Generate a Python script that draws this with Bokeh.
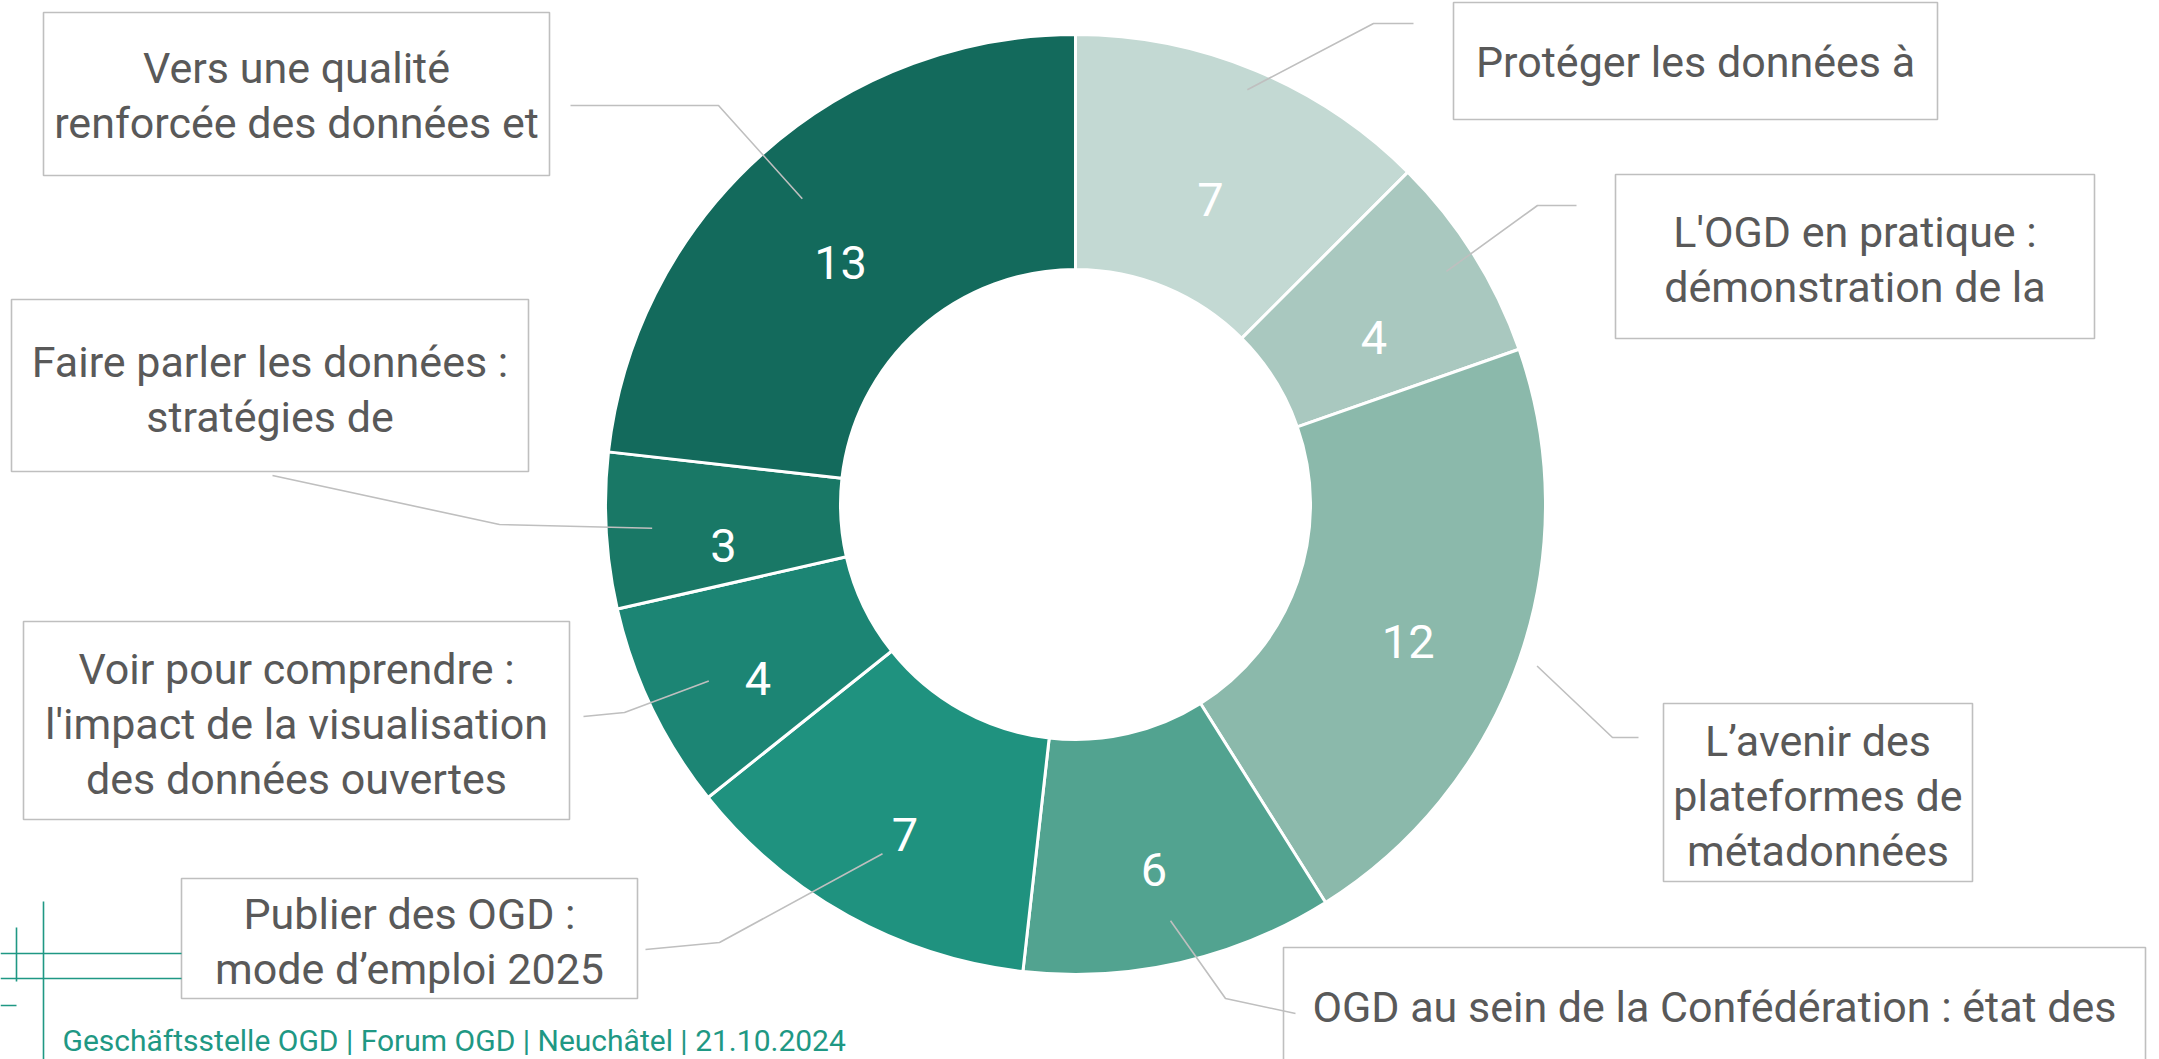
import math
from bokeh.plotting import figure
from bokeh.models import Range1d
from bokeh.core.properties import value
from bokeh.embed import file_html
from bokeh.resources import INLINE

# ---------------- data ----------------
topics = [
    "Protéger les données à",
    "L'OGD en pratique :\ndémonstration de la",
    "L’avenir des\nplateformes de\nmétadonnées",
    "OGD au sein de la Confédération : état des",
    "Publier des OGD :\nmode d’emploi 2025",
    "Voir pour comprendre :\nl'impact de la visualisation\ndes données ouvertes",
    "Faire parler les données :\nstratégies de",
    "Vers une qualité\nrenforcée des données et",
]
counts = [7, 4, 12, 6, 7, 4, 3, 13]
slice_colors = ["#c3d9d3", "#a9c8bf", "#8bb9ab", "#52a390",
                "#1f927f", "#1c8574", "#197866", "#136a5c"]
footer_text = "Geschäftsstelle OGD  | Forum OGD | Neuchâtel | 21.10.2024"

# ---------------- layout (reference pixel space, y down) ----------------
W, H = 2159, 1059
CX, CY = 1075, 504
R_OUT, R_IN = 470, 235
# label boxes: left, top, right, bottom, text centre y
boxes = [
    (1453, 2, 1937, 119, 61),
    (1615, 174, 2094, 338, 259),
    (1663, 703, 1972, 881, 795),
    (1283, 947, 2145, 1120, 1006),
    (181, 878, 637, 998, 941),
    (23, 621, 569, 819, 723),
    (11, 299, 528, 471, 389),
    (43, 12, 549, 175, 95),
]
lead_r = [449, 438, 489, 427, 399, 407, 424, 410]
lead_elbow = [(1373, 23), (1537, 205), (1612, 737), (1225, 998),
              (719, 942), (624, 712), (499, 524), (718, 105)]
lead_end = [(1413, 23), (1576, 205), (1638, 737), (1295, 1013),
            (645, 949), (583, 716), (272, 475), (570, 105)]
LINE_SP = 55

TEXT_GREY = "#595959"
BOX_GREY = "#bfbfbf"
TEAL = "#1f9884"


def Y(ry):
    return -ry


p = figure(width=W, height=H, output_backend="svg", toolbar_location=None,
           x_range=Range1d(0, W), y_range=Range1d(-H, 0),
           x_axis_type=None, y_axis_type=None, min_border=0,
           background_fill_color="white", border_fill_color="white")
p.outline_line_color = None
p.grid.visible = False

total = sum(counts)
cum = [0]
for c in counts:
    cum.append(cum[-1] + c)
theta0 = [2 * math.pi * cum[i] / total for i in range(len(counts))]
theta1 = [2 * math.pi * cum[i + 1] / total for i in range(len(counts))]
thetam = [(a + b) / 2 for a, b in zip(theta0, theta1)]

p.annular_wedge(x=[CX] * len(counts), y=[Y(CY)] * len(counts),
                inner_radius=R_IN, outer_radius=R_OUT,
                start_angle=[math.pi / 2 - t for t in theta0],
                end_angle=[math.pi / 2 - t for t in theta1],
                direction="clock", fill_color=slice_colors,
                line_color="white", line_width=3)

# value labels
r_mid = (R_IN + R_OUT) / 2
lx = [CX + r_mid * math.sin(t) for t in thetam]
ly = [Y(CY - r_mid * math.cos(t)) - 21 for t in thetam]
p.text(x=lx, y=ly, text=[str(c) for c in counts], text_color="white",
       text_font=value("Roboto"), text_font_size="47px",
       text_align="center", text_baseline="middle")

# leader lines
xs, ys = [], []
for i, t in enumerate(thetam):
    sx = CX + lead_r[i] * math.sin(t)
    sy = CY - lead_r[i] * math.cos(t)
    xs.append([sx, lead_elbow[i][0], lead_end[i][0]])
    ys.append([Y(sy), Y(lead_elbow[i][1]), Y(lead_end[i][1])])
p.multi_line(xs=xs, ys=ys, line_color=BOX_GREY, line_width=1.6)

# boxes
p.quad(left=[b[0] for b in boxes], right=[b[2] for b in boxes],
       top=[Y(b[1]) for b in boxes], bottom=[Y(b[3]) for b in boxes],
       fill_alpha=0, line_color=BOX_GREY, line_width=1.6)

tx, ty, tt = [], [], []
for (l, t, r, b, cy), label in zip(boxes, topics):
    lines = label.split("\n")
    n = len(lines)
    for k, s in enumerate(lines):
        tx.append((l + r) / 2)
        ty.append(Y(cy + (k - (n - 1) / 2) * LINE_SP))
        tt.append(s)
p.text(x=tx, y=ty, text=tt, text_color=TEXT_GREY,
       text_font=value("Roboto"), text_font_size="43px",
       text_align="center", text_baseline="middle")

# footer decoration
p.segment(x0=[43, 16, 0, 0, 0], y0=[Y(901), Y(927), Y(953), Y(978), Y(1005)],
          x1=[43, 16, 181, 181, 16], y1=[Y(1059), Y(981), Y(953), Y(978), Y(1005)],
          line_color=TEAL, line_width=1.6)
p.text(x=[62], y=[Y(1040)], text=[footer_text], text_color=TEAL,
       text_font=value("Roboto"), text_font_size="30px",
       text_align="left", text_baseline="alphabetic")

open("out.html", "w").write(file_html(p, INLINE))
